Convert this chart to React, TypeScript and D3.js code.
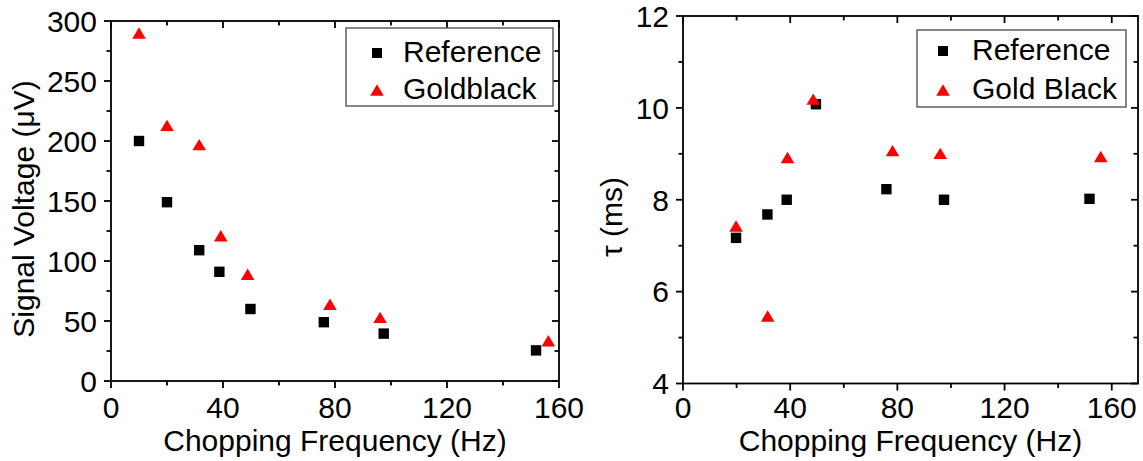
import React from 'react';
import * as d3 from 'd3';

// ---- Data ----
const freqRefL = [10, 20, 31.5, 38.7, 49.8, 76, 97.4, 151.8];
const voltRef = [200, 149, 109, 91, 60, 49, 39.5, 25.5];
const freqGoldL = [10, 20, 31.5, 39.2, 48.8, 78.2, 96.1, 156.2];
const voltGold = [290, 213, 197, 121, 89, 64, 53, 33.6];

const freqRefR = [19.8, 31.5, 38.7, 49.6, 75.9, 97.4, 151.7];
const tauRef = [7.17, 7.68, 8.0, 10.08, 8.23, 8.0, 8.02];
const freqGoldR = [19.8, 31.6, 39, 48.6, 78.2, 96, 155.9];
const tauGold = [7.43, 5.47, 8.92, 10.19, 9.07, 9.01, 8.94];

const xMajor = [0, 40, 80, 120, 160];
const xMinor = [20, 60, 100, 140];
const vMajor = [0, 50, 100, 150, 200, 250, 300];
const vMinor = [25, 75, 125, 175, 225, 275];
const tMajor = [4, 6, 8, 10, 12];
const tMinor = [5, 7, 9, 11];

const legendLeft = ['Reference', 'Goldblack'];
const legendRight = ['Reference', 'Gold Black'];

const FONT = '"Liberation Sans", Arial, Helvetica, sans-serif';
const FS = 30;
const RED = '#ff0000';

type PanelProps = {
  x0: number; x1: number; y0: number; y1: number;
  xDomain: [number, number]; yDomain: [number, number];
  yMajor: number[]; yMinor: number[];
  refX: number[]; refY: number[]; goldX: number[]; goldY: number[];
  yLabel: string; yLabelX: number; yLabelY: number;
  legend: string[]; legBox: [number, number, number, number];
  legMarkX: number; legTextX: number; legY: [number, number];
};

function tri(cx: number, cy: number) {
  const w = 6.8, h = 5.7;
  return `M${cx},${cy - h}L${cx + w},${cy + h}L${cx - w},${cy + h}Z`;
}

function Panel(p: PanelProps) {
  const xs = d3.scaleLinear().domain(p.xDomain).range([p.x0, p.x1]);
  const ys = d3.scaleLinear().domain(p.yDomain).range([p.y1, p.y0]);
  const sw = 1.8;
  const MJ = 7, MN = 4.5;
  const xm = xMajor.filter(v => v >= p.xDomain[0] && v <= p.xDomain[1]);
  const xn = xMinor.filter(v => v >= p.xDomain[0] && v <= p.xDomain[1]);
  const textProps = { fontFamily: FONT, fontSize: FS, fill: '#000' };
  return (
    <g>
      <rect x={p.x0} y={p.y0} width={p.x1 - p.x0} height={p.y1 - p.y0} fill="none" stroke="#000" strokeWidth={sw} />
      {xm.map(v => (
        <g key={'xm' + v}>
          <line x1={xs(v)} x2={xs(v)} y1={p.y1} y2={p.y1 + MJ} stroke="#000" strokeWidth={sw} />
          <line x1={xs(v)} x2={xs(v)} y1={p.y0} y2={p.y0 + MJ} stroke="#000" strokeWidth={sw} />
          <text x={xs(v)} y={417.5} textAnchor="middle" {...textProps}>{v}</text>
        </g>
      ))}
      {xn.map(v => (
        <g key={'xn' + v}>
          <line x1={xs(v)} x2={xs(v)} y1={p.y1} y2={p.y1 + MN} stroke="#000" strokeWidth={sw} />
          <line x1={xs(v)} x2={xs(v)} y1={p.y0} y2={p.y0 + MN} stroke="#000" strokeWidth={sw} />
        </g>
      ))}
      {p.yMajor.map(v => (
        <g key={'ym' + v}>
          <line x1={p.x0 - MJ} x2={p.x0} y1={ys(v)} y2={ys(v)} stroke="#000" strokeWidth={sw} />
          <line x1={p.x1 - MJ} x2={p.x1} y1={ys(v)} y2={ys(v)} stroke="#000" strokeWidth={sw} />
          <text x={p.x0 - 14} y={ys(v) + FS * 0.36} textAnchor="end" {...textProps}>{v}</text>
        </g>
      ))}
      {p.yMinor.map(v => (
        <g key={'yn' + v}>
          <line x1={p.x0 - MN} x2={p.x0} y1={ys(v)} y2={ys(v)} stroke="#000" strokeWidth={sw} />
          <line x1={p.x1 - MN} x2={p.x1} y1={ys(v)} y2={ys(v)} stroke="#000" strokeWidth={sw} />
        </g>
      ))}
      <text x={(p.x0 + p.x1) / 2} y={451} textAnchor="middle" {...textProps}>Chopping Frequency (Hz)</text>
      <text transform={`translate(${p.yLabelX},${p.yLabelY}) rotate(-90)`} textAnchor="middle" {...textProps}>{p.yLabel}</text>
      {p.refX.map((f, i) => (
        <rect key={'r' + i} x={xs(f) - 5.2} y={ys(p.refY[i]) - 5.2} width={10.4} height={10.4} fill="#000" />
      ))}
      {p.goldX.map((f, i) => (
        <path key={'g' + i} d={tri(xs(f), ys(p.goldY[i]))} fill={RED} />
      ))}
      <rect x={p.legBox[0]} y={p.legBox[1]} width={p.legBox[2]} height={p.legBox[3]} fill="#fff" stroke="#555" strokeWidth={1.4} />
      <rect x={p.legMarkX - 5} y={p.legY[0] - 14} width={10} height={10} fill="#000" />
      <path d={tri(p.legMarkX, p.legY[1] - 9)} fill={RED} />
      <text x={p.legTextX} y={p.legY[0]} {...textProps}>{p.legend[0]}</text>
      <text x={p.legTextX} y={p.legY[1]} {...textProps}>{p.legend[1]}</text>
    </g>
  );
}

export default function App() {
  return (
    <svg width={1143} height={461} style={{ position: 'absolute', left: 0, top: 0, background: '#fff' }}>
      <rect x={0} y={0} width={1143} height={461} fill="#fff" />
      <Panel
        x0={111} x1={559} y0={21} y1={381}
        xDomain={[0, 160]} yDomain={[0, 300]}
        yMajor={vMajor} yMinor={vMinor}
        refX={freqRefL} refY={voltRef} goldX={freqGoldL} goldY={voltGold}
        yLabel="Signal Voltage (μV)" yLabelX={34} yLabelY={209}
        legend={legendLeft} legBox={[346, 28, 207, 78]}
        legMarkX={377} legTextX={403} legY={[62, 99]}
      />
      <Panel
        x0={683} x1={1138} y0={16} y1={383.5}
        xDomain={[0, 169.8]} yDomain={[4, 12]}
        yMajor={tMajor} yMinor={tMinor}
        refX={freqRefR} refY={tauRef} goldX={freqGoldR} goldY={tauGold}
        yLabel="τ (ms)" yLabelX={622} yLabelY={217}
        legend={legendRight} legBox={[917, 30, 209, 77]}
        legMarkX={943} legTextX={972} legY={[60, 99]}
      />
    </svg>
  );
}
